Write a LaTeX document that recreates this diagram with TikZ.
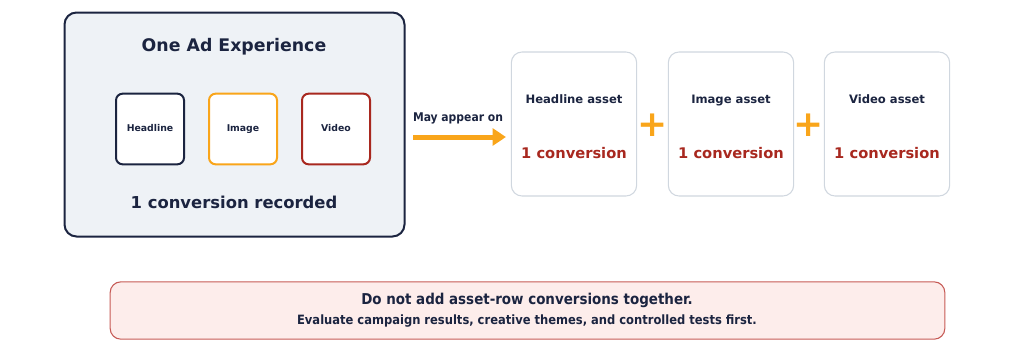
\documentclass[tikz,border=0pt]{standalone}
\usepackage{fontspec}
\setmainfont{DejaVu Sans}
\newfontfamily\condfont{DejaVu Sans Condensed}
\usepackage{tikz}
\usetikzlibrary{arrows.meta,positioning}
\definecolor{navy}{HTML}{1B2440}
\definecolor{panelbg}{HTML}{EEF2F6}
\definecolor{amber}{HTML}{F9A51A}
\definecolor{brick}{HTML}{A8281F}
\definecolor{assetline}{HTML}{D0D7DF}
\definecolor{warnbg}{HTML}{FDEDEB}
\definecolor{warnline}{HTML}{C65A55}
\tikzset{
  panel/.style={draw=navy,line width=1.5pt,rounded corners=9pt,fill=panelbg,inner sep=0pt},
  partbox/.style={draw,line width=1.5pt,rounded corners=5pt,fill=white,minimum width=51pt,minimum height=53pt,inner sep=0pt,font=\fontsize{7}{8}\selectfont\bfseries,text=navy,text height=5.2pt,text depth=1.4pt},
  assetbox/.style={draw=assetline,line width=0.8pt,rounded corners=8pt,fill=white,minimum width=94pt,minimum height=108pt,inner sep=0pt},
  assettitle/.style={font=\fontsize{8.7}{10}\selectfont\bfseries,text=navy,text height=6.5pt,text depth=1.8pt},
  convtext/.style={font=\fontsize{11}{13}\selectfont\bfseries,text=brick,text height=8.2pt,text depth=0pt},
  plussign/.style={font=\fontsize{27}{27}\selectfont\bfseries,text=amber,inner sep=0pt},
  bigtext/.style={font=\fontsize{12.3}{15}\selectfont\bfseries,text=navy},
  warnbox/.style={draw=warnline,line width=0.8pt,rounded corners=8pt,fill=warnbg,minimum width=626pt,minimum height=43pt,inner sep=0pt},
  appeararrow/.style={-{Triangle[length=10pt,width=12.5pt]},line width=3.75pt,amber}
}
\begin{document}
\begin{tikzpicture}[x=0.75pt,y=-0.75pt]
  \useasboundingbox (0,0) rectangle (1024,350);

  % left panel
  \node[panel,minimum width=255pt,minimum height=168pt] (panel) at (234.5,124.5) {};
  \node[bigtext,font=\fontsize{13}{15}\selectfont\bfseries] (paneltitle) at (234,47) {One Ad Experience};
  \node[partbox,draw=navy] (headline) at (150,129) {Headline};
  \node[partbox,draw=amber] (image) at (243,129) {Image};
  \node[partbox,draw=brick] (video) at (336,129) {Video};
  \node[bigtext] (recorded) at (234,202) {1 conversion recorded};

  % asset rows
  \node[assetbox] (hasset) at (574,124) {};
  \node[assetbox] (iasset) at (731,124) {};
  \node[assetbox] (vasset) at (887,124) {};
  \foreach \n/\t in {hasset/Headline asset,iasset/Image asset,vasset/Video asset}{
    \node[assettitle] (\n-title) at ([yshift=18pt]\n.center) {\t};
    \node[convtext] (\n-conv) at ([yshift=-21.75pt]\n.center) {1 conversion};
  }
  \node[plussign] (plusone) at (652.5,125) {+};
  \node[plussign] (plustwo) at (809,125) {+};

  % arrow
  \coordinate (arrowstart) at (413,137);
  \coordinate (arrowend) at (506,137);
  \draw[appeararrow] (arrowstart) -- (arrowend);
  \node[font=\condfont\fontsize{9}{11}\selectfont\bfseries,text=navy] (appear) at (458,118) {May appear on};

  % warning
  \node[warnbox] (warn) at (527.5,310.5) {};
  \node[font=\condfont\fontsize{11.2}{13}\selectfont\bfseries,text=navy] (warntitle) at (527,300) {Do not add asset-row conversions together.};
  \node[font=\condfont\fontsize{9.6}{11}\selectfont\bfseries,text=navy] (warnnote) at (527,321) {Evaluate campaign results, creative themes, and controlled tests first.};
\end{tikzpicture}
\end{document}
